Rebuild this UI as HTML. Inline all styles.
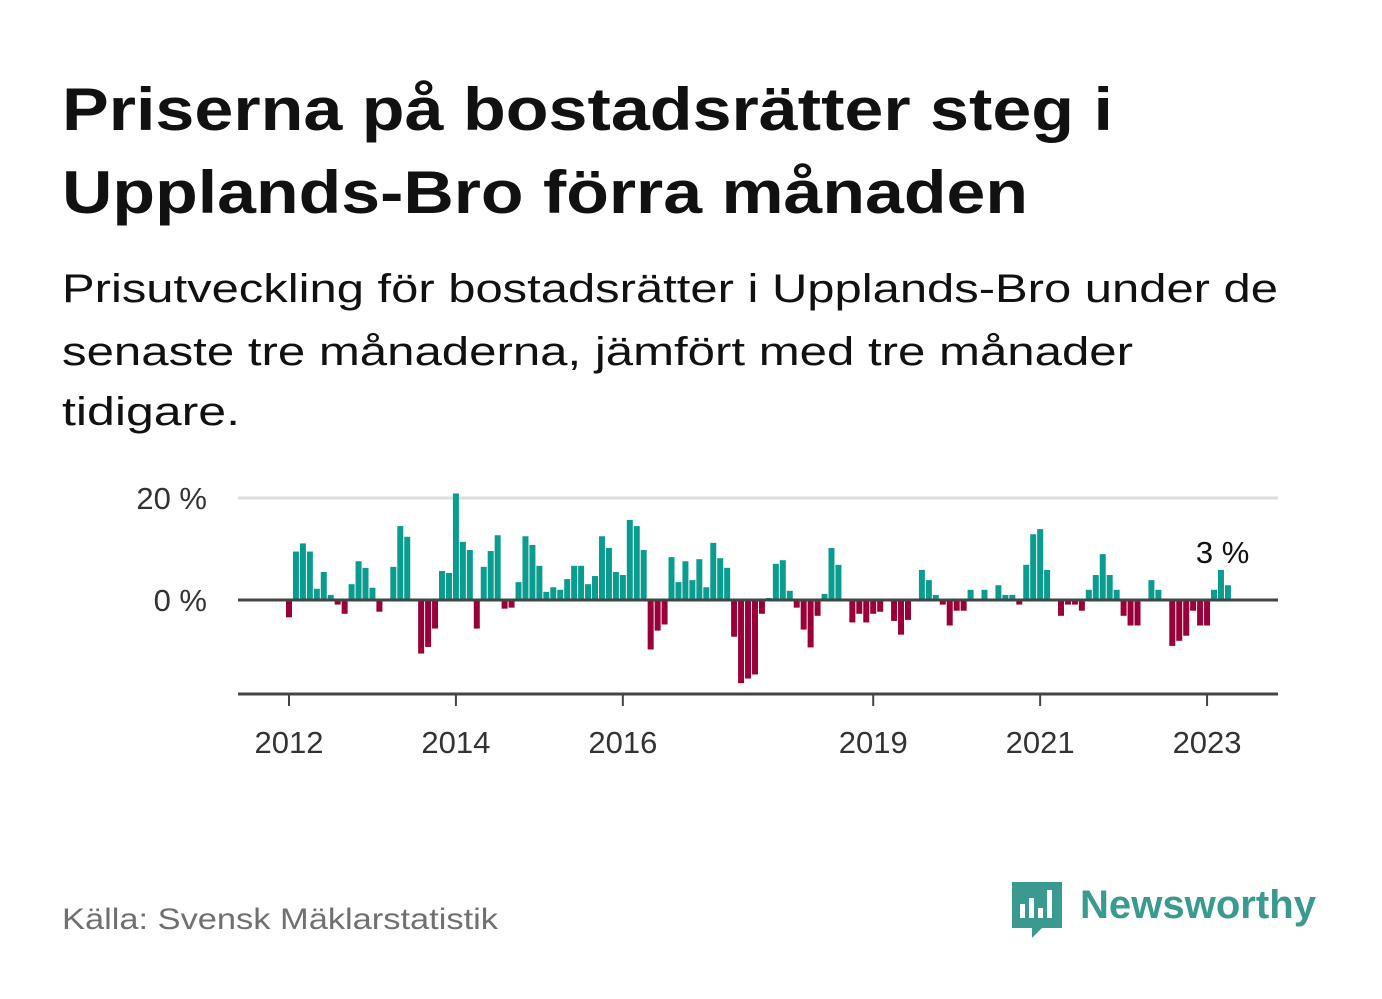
<!DOCTYPE html>
<html><head><meta charset="utf-8"><style>
html,body{margin:0;padding:0;background:#fff;}
svg{display:block;font-family:"Liberation Sans",sans-serif;}
</style></head><body>
<svg id="chart" width="1382" height="999" viewBox="0 0 1382 999">
<text x="62" y="130" font-size="60" font-weight="bold" fill="#111" textLength="1051" lengthAdjust="spacingAndGlyphs">Priserna på bostadsrätter steg i</text>
<text x="62" y="213" font-size="60" font-weight="bold" fill="#111" textLength="966" lengthAdjust="spacingAndGlyphs">Upplands-Bro förra månaden</text>
<text x="62" y="302" font-size="40" fill="#111" textLength="1216" lengthAdjust="spacingAndGlyphs">Prisutveckling för bostadsrätter i Upplands-Bro under de</text>
<text x="62" y="365" font-size="40" fill="#111" textLength="1071" lengthAdjust="spacingAndGlyphs">senaste tre månaderna, jämfört med tre månader</text>
<text x="62" y="425" font-size="40" fill="#111" textLength="178" lengthAdjust="spacingAndGlyphs">tidigare.</text>
<g id="plot"></g>
<text x="62" y="929" font-size="30" fill="#707070" textLength="436" lengthAdjust="spacingAndGlyphs">Källa: Svensk Mäklarstatistik</text>
<g>
<path d="M1012 882 h50 v46 h-20 l-10 10 v-10 h-20 z" fill="#3b9a8f"/>
<rect x="1020" y="904" width="5" height="14" fill="#fff"/>
<rect x="1029" y="898" width="5" height="20" fill="#fff"/>
<rect x="1038" y="908" width="5" height="10" fill="#fff"/>
<rect x="1047" y="890" width="5" height="28" fill="#fff"/>
<text x="1080" y="918" font-size="40" font-weight="bold" fill="#3b9a8f" textLength="236" lengthAdjust="spacingAndGlyphs">Newsworthy</text>
</g>
</svg>
<script>
const values = [-3.4,9.5,11.1,9.5,2.2,5.5,1.0,-0.9,-2.7,3.1,7.6,6.3,2.4,-2.3,0,6.5,14.5,12.4,0,-10.5,-9.2,-5.6,5.7,5.3,20.9,11.4,9.8,-5.6,6.5,9.6,12.7,-1.7,-1.5,3.5,12.5,10.8,6.7,1.6,2.5,2.0,4.1,6.7,6.7,3.1,4.7,12.5,10.2,5.5,4.9,15.7,14.5,9.8,-9.7,-6.0,-4.8,8.4,3.5,7.6,3.9,8.0,2.5,11.2,8.2,6.3,-7.2,-16.3,-15.4,-14.6,-2.7,0.4,7.1,7.8,1.8,-1.5,-5.8,-9.3,-3.1,1.2,10.2,6.9,0,-4.4,-2.7,-4.4,-2.7,-2.3,0,-4.1,-6.8,-3.9,0,5.9,3.9,1.0,-0.9,-5.0,-2.1,-2.1,2.0,0,2.0,0,2.9,1.0,1.0,-0.9,6.9,12.9,13.9,5.9,0,-3.1,-0.9,-0.9,-2.1,2.0,4.9,9.0,4.9,2.0,-3.1,-5.0,-5.0,0,3.9,2.0,0,-9.0,-8.0,-7.0,-2.1,-5.0,-5.0,2.0,5.9,2.9];
const startYear = 2012;
const yTicks = [0, 20];
const xTickYears = [2012, 2014, 2016, 2019, 2021, 2023];
const lastLabel = "3 %";

const NS = "http://www.w3.org/2000/svg";
const g = document.getElementById('plot');
const x0 = 289, monthW = 6.955, zeroY = 600, pxPer = 5.1;
const xs = i => x0 + i * monthW;
const ys = v => zeroY - v * pxPer;
function mk(tag, attrs){const e=document.createElementNS(NS,tag);for(const k in attrs)e.setAttribute(k,attrs[k]);g.appendChild(e);return e;}

yTicks.forEach(t=>{
  if(t!==0){const l=mk('line',{x1:238,x2:1278,y1:ys(t),y2:ys(t),stroke:'#ddd','stroke-width':3});
  
  }
  const tx=mk('text',{x:207,y:ys(t)+11,'font-size':31,fill:'#333','text-anchor':'end'});
  tx.textContent=t+' %';
  
  
});
values.forEach((v,i)=>{
  if(v===0)return;
  const r=mk('rect',{x:xs(i)-3,width:6,y:Math.min(ys(v),zeroY),height:Math.abs(ys(v)-zeroY),fill:v>0?'#0a9d8f':'#99003a'});
  
  
});
const z=mk('line',{x1:238,x2:1278,y1:zeroY,y2:zeroY,stroke:'#444','stroke-width':3});


const ax=mk('line',{x1:238,x2:1278,y1:694,y2:694,stroke:'#444','stroke-width':3});


xTickYears.forEach(yr=>{
  const xp=xs((yr-startYear)*12);
  const tk=mk('line',{x1:xp,x2:xp,y1:694,y2:706,stroke:'#444','stroke-width':2});
  
  
  const tx=mk('text',{x:xp,y:753,'font-size':31,fill:'#333','text-anchor':'middle'});
  tx.textContent=yr;
  
  
});
const li=values.length-1;
const lab=mk('text',{x:xs(li)-32,y:ys(values[li])-22,'font-size':31,fill:'#111'});
lab.textContent=lastLabel;


</script>
</body></html>
